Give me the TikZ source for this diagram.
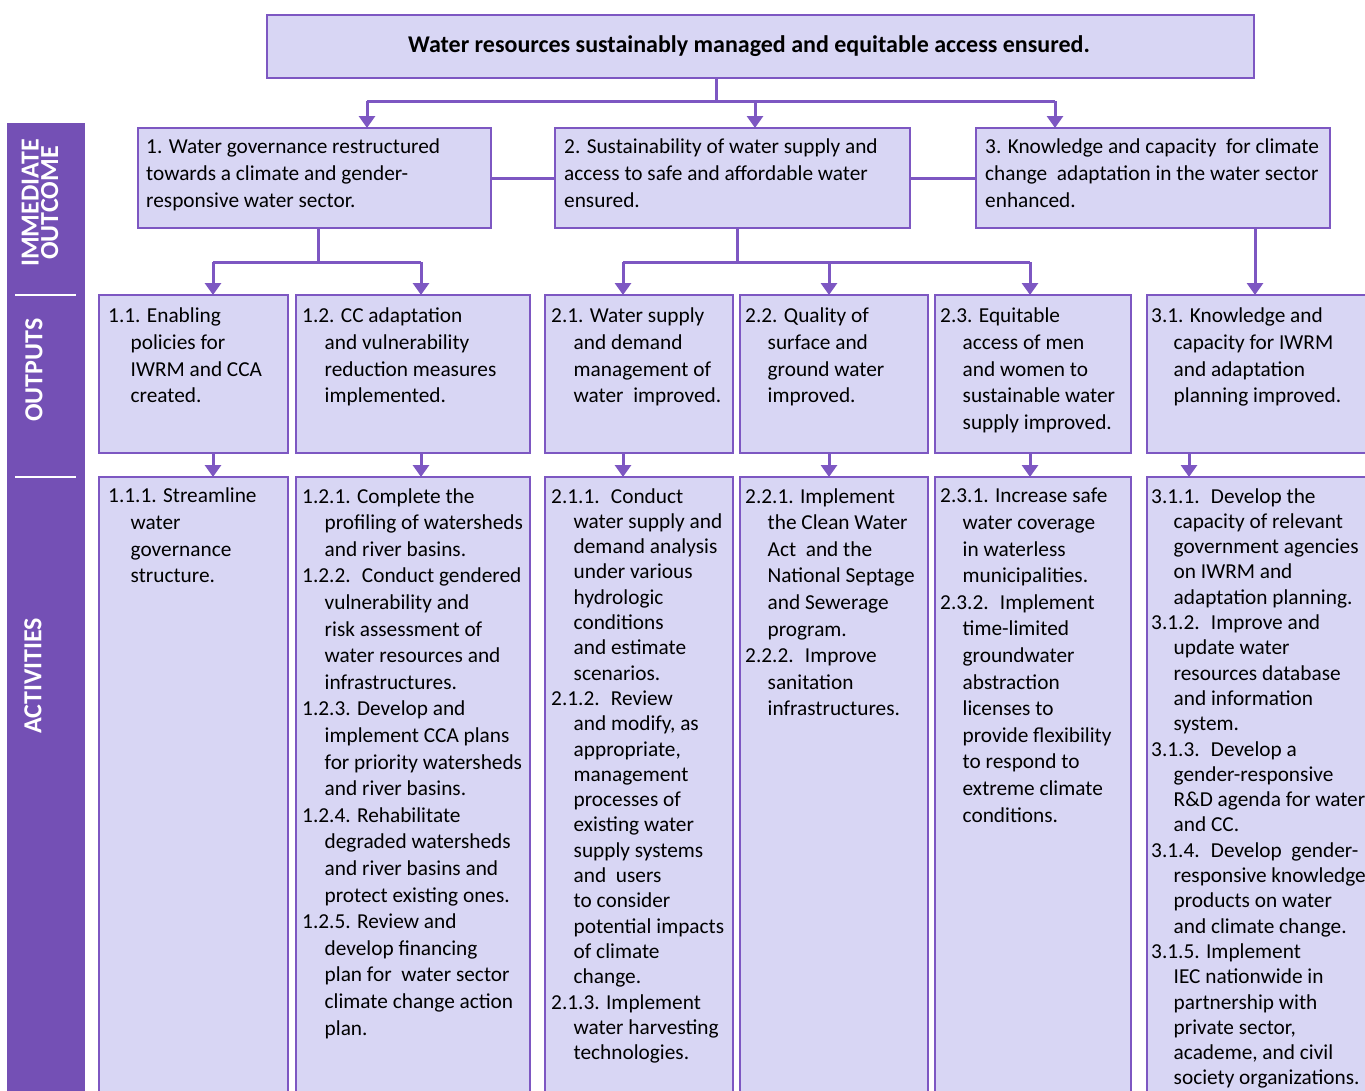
\documentclass[tikz,border=0pt]{standalone}
\usepackage{fontspec}
\setmainfont{Carlito}
\usetikzlibrary{arrows.meta, positioning}
\definecolor{boxfill}{RGB}{216,214,244}
\definecolor{boxline}{RGB}{125,87,194}
\definecolor{sidebar}{RGB}{116,80,181}
\newcommand{\hs}{\hspace*{22.5pt}}

\begin{document}
\begin{tikzpicture}[x=1pt, y=-1pt,
	panel/.style={draw=boxline, fill=boxfill, line width=2.4pt, inner sep=0pt, outer sep=0pt},
	txt/.style={inner sep=0pt, align=left, anchor=north west, font=\fontsize{21.3}{26.6}\selectfont},
	tight/.style={font=\fontsize{21.3}{25.3}\selectfont},
	sidetxt/.style={white, rotate=90, align=center, inner sep=0pt, font=\bfseries\fontsize{26}{19.5}\selectfont},
	wire/.style={draw=boxline, line width=3pt},
	flow/.style={wire, -{Triangle[width=16pt, length=12pt]}},
	divider/.style={white, line width=2.5pt}]

	\useasboundingbox (0,0) rectangle (1365,1090);
	\clip (0,0) rectangle (1365,1090);

	% Side bar
	\node[fill=sidebar, inner sep=0pt, minimum width=78, minimum height=990, anchor=north west] (bar) at (7,123) {};
	\node[sidetxt] (lblio) at (40,203) {IMMEDIATE\\OUTCOME};
	\node[sidetxt] (lblout) at (34,370) {OUTPUTS};
	\node[sidetxt] (lblact) at (33,676) {ACTIVITIES};
	\draw[divider] (15,295) -- (76,295);
	\draw[divider] (15,477) -- (76,477);

	% Goal
	\node[panel, minimum width=987, minimum height=63] (goal) at (760.5,46.5) {};
	\node[txt, anchor=center, font=\bfseries\fontsize{24}{28}\selectfont] (goaltxt) at (749,46) {Water resources sustainably managed and equitable access ensured.};

	% Immediate outcomes
	\node[panel, minimum width=353, minimum height=100] (io1) at (314.5,178) {};
	\node[panel, minimum width=355, minimum height=100] (io2) at (732.5,178) {};
	\node[panel, minimum width=354, minimum height=100] (io3) at (1153,178) {};
	\node[txt, below right=11pt and 8pt of io1.north west] (io1t) {1. Water governance restructured\\towards a climate and gender-\\responsive water sector.};
	\node[txt, below right=11pt and 9pt of io2.north west] (io2t) {2. Sustainability of water supply and\\access to safe and affordable water\\ensured.};
	\node[txt, below right=11pt and 9pt of io3.north west] (io3t) {3. Knowledge and capacity~ for climate\\change~ adaptation in the water sector\\enhanced.};

	% Outputs
	\node[panel, minimum width=189, minimum height=158] (out11) at (193.5,374) {};
	\node[panel, minimum width=234, minimum height=158] (out12) at (413,374) {};
	\node[panel, minimum width=188, minimum height=158] (out21) at (639,374) {};
	\node[panel, minimum width=188, minimum height=158] (out22) at (834,374) {};
	\node[panel, minimum width=196, minimum height=158] (out23) at (1033,374) {};
	\node[panel, minimum width=240, minimum height=158] (out31) at (1267,374) {};
	\node[txt, below right=13pt and 9pt of out11.north west] (out11t) {1.1. Enabling\\\hs policies for\\\hs IWRM and CCA\\\hs created.};
	\node[txt, below right=13pt and 6pt of out12.north west] (out12t) {1.2. CC adaptation\\\hs and vulnerability\\\hs reduction measures\\\hs implemented.};
	\node[txt, below right=13pt and 6pt of out21.north west] (out21t) {2.1. Water supply\\\hs and demand\\\hs management of\\\hs water~ improved.};
	\node[txt, below right=13pt and 5pt of out22.north west] (out22t) {2.2. Quality of\\\hs surface and\\\hs ground water\\\hs improved.};
	\node[txt, below right=13pt and 5pt of out23.north west] (out23t) {2.3. Equitable\\\hs access of men\\\hs and women to\\\hs sustainable water\\\hs supply improved.};
	\node[txt, below right=13pt and 4pt of out31.north west] (out31t) {3.1. Knowledge and\\\hs capacity for IWRM\\\hs and adaptation\\\hs planning improved.};

	% Activities
	\node[panel, minimum width=189, minimum height=630, anchor=north] (act11) at (193.5,477) {};
	\node[panel, minimum width=234, minimum height=630, anchor=north] (act12) at (413,477) {};
	\node[panel, minimum width=188, minimum height=630, anchor=north] (act21) at (639,477) {};
	\node[panel, minimum width=188, minimum height=630, anchor=north] (act22) at (834,477) {};
	\node[panel, minimum width=196, minimum height=630, anchor=north] (act23) at (1033,477) {};
	\node[panel, minimum width=240, minimum height=630, anchor=north] (act31) at (1267,477) {};
	\node[txt, below right=11pt and 9pt of act11.north west] (act11t) {1.1.1. Streamline\\\hs water\\\hs governance\\\hs structure.};
	\node[txt, below right=11pt and 6pt of act12.north west] (act12t) {1.2.1. Complete the\\\hs profiling of watersheds\\\hs and river basins.\\
		1.2.2.~ Conduct gendered\\\hs vulnerability and\\\hs risk assessment of\\\hs water resources and\\\hs infrastructures.\\
		1.2.3. Develop and\\\hs implement CCA plans\\\hs for priority watersheds\\\hs and river basins.\\
		1.2.4. Rehabilitate\\\hs degraded watersheds\\\hs and river basins and\\\hs protect existing ones.\\
		1.2.5. Review and\\\hs develop financing\\\hs plan for~ water sector\\\hs climate change action\\\hs plan.};
	\node[txt, tight, below right=11pt and 6pt of act21.north west] (act21t) {2.1.1.~ Conduct\\\hs water supply and\\\hs demand analysis\\\hs under various\\\hs hydrologic\\\hs conditions\\\hs and estimate\\\hs scenarios.\\
		2.1.2.~ Review\\\hs and modify, as\\\hs appropriate,\\\hs management\\\hs processes of\\\hs existing water\\\hs supply systems\\\hs and~ users\\\hs to consider\\\hs potential impacts\\\hs of climate\\\hs change.\\
		2.1.3. Implement\\\hs water harvesting\\\hs technologies.};
	\node[txt, below right=11pt and 5pt of act22.north west] (act22t) {2.2.1. Implement\\\hs the Clean Water\\\hs Act~ and the\\\hs National Septage\\\hs and Sewerage\\\hs program.\\
		2.2.2.~ Improve\\\hs sanitation\\\hs infrastructures.};
	\node[txt, below right=11pt and 5pt of act23.north west] (act23t) {2.3.1. Increase safe\\\hs water coverage\\\hs in waterless\\\hs municipalities.\\
		2.3.2.~ Implement\\\hs time-limited\\\hs groundwater\\\hs abstraction\\\hs licenses to\\\hs provide flexibility\\\hs to respond to\\\hs extreme climate\\\hs conditions.};
	\node[txt, tight, below right=11pt and 4pt of act31.north west] (act31t) {3.1.1.~ Develop the\\\hs capacity of relevant\\\hs government agencies\\\hs on IWRM and\\\hs adaptation planning.\\
		3.1.2.~ Improve and\\\hs update water\\\hs resources database\\\hs and information\\\hs system.\\
		3.1.3.~ Develop a\\\hs gender-responsive\\\hs R\&D agenda for water\\\hs and CC.\\
		3.1.4.~ Develop~ gender-\\\hs responsive knowledge\\\hs products on water\\\hs and climate change.\\
		3.1.5. Implement\\\hs IEC nationwide in\\\hs partnership with\\\hs private sector,\\\hs academe, and civil\\\hs society organizations.};

	% Goal to immediate outcomes
	\coordinate (j0) at (716,101);
	\coordinate (j0a) at (367,101);
	\coordinate (j0b) at (755,101);
	\coordinate (j0c) at (1055,101);
	\draw[wire] (goal.south -| j0) -- (j0);
	\draw[wire] (j0a) -- (j0c);
	\draw[flow] (j0a) -- (j0a |- io1.north);
	\draw[flow] (j0b) -- (j0b |- io2.north);
	\draw[flow] (j0c) -- (j0c |- io3.north);

	% Links between immediate outcomes
	\draw[wire] (io1.east) -- (io2.west);
	\draw[wire] (io2.east) -- (io3.west);

	% Immediate outcomes to outputs
	\coordinate (j1) at (318,262);
	\coordinate (j1a) at (213,262);
	\coordinate (j1b) at (421,262);
	\draw[wire] (io1.south -| j1) -- (j1);
	\draw[wire] (j1a) -- (j1b);
	\draw[flow] (j1a) -- (j1a |- out11.north);
	\draw[flow] (j1b) -- (j1b |- out12.north);

	\coordinate (j2) at (737,262);
	\coordinate (j2a) at (623,262);
	\coordinate (j2b) at (829,262);
	\coordinate (j2c) at (1030,262);
	\draw[wire] (io2.south -| j2) -- (j2);
	\draw[wire] (j2a) -- (j2c);
	\draw[flow] (j2a) -- (j2a |- out21.north);
	\draw[flow] (j2b) -- (j2b |- out22.north);
	\draw[flow] (j2c) -- (j2c |- out23.north);

	\coordinate (j3) at (1255,262);
	\draw[flow] (io3.south -| j3) -- (j3 |- out31.north);

	% Outputs to activities
	\foreach \o/\x in {11/213, 12/421, 21/623, 22/829, 23/1030, 31/1189}
		\draw[flow] (out\o.south -| \x,0) -- (act\o.north -| \x,0);

\end{tikzpicture}
\end{document}
